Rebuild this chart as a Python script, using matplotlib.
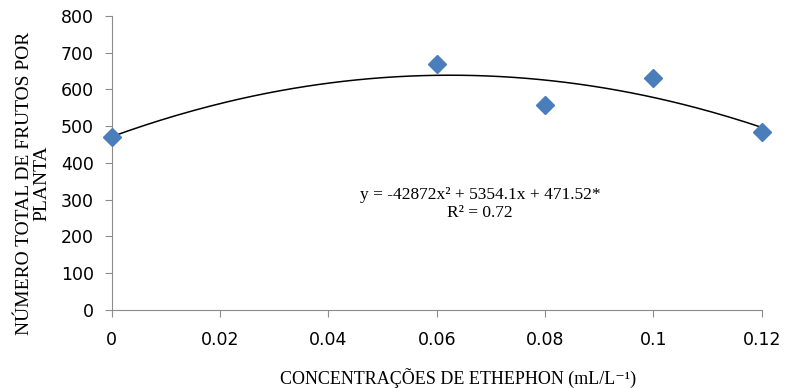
import numpy as np
import matplotlib.pyplot as plt

conc = [0, 0.06, 0.08, 0.1, 0.12]
frutos = [470, 670, 558, 630, 483]
coef = [-42872, 5354.1, 471.52]
x_ticks = [0, 0.02, 0.04, 0.06, 0.08, 0.1, 0.12]
x_ticklabels = ['0', '0.02', '0.04', '0.06', '0.08', '0.1', '0.12']
y_ticks = [0, 100, 200, 300, 400, 500, 600, 700, 800]

fig = plt.figure(figsize=(7.87, 3.88), dpi=100)
ax = fig.add_axes([0.142, 0.201, 0.826, 0.758])

# curva ajustada + pontos
xx = np.linspace(0, 0.12, 200)
ax.plot(xx, np.polyval(coef, xx), color='black', lw=1.1, zorder=2)
ax.plot(conc, frutos, 'D', color='#4a7ebb', markersize=9, zorder=3, clip_on=False)

ax.set_xlim(0, 0.12)
ax.set_ylim(0, 800)
ax.set_xticks(x_ticks)
ax.set_xticklabels(x_ticklabels)
ax.set_yticks(y_ticks)

for s in ['top', 'right']:
    ax.spines[s].set_visible(False)
for s in ['left', 'bottom']:
    ax.spines[s].set_color('#8c8c8c')
ax.tick_params(colors='#8c8c8c', length=5, labelcolor='black', labelsize=12.5)
ax.tick_params(axis='x', pad=10)
ax.tick_params(axis='y', pad=8)

serif = ['Liberation Serif', 'DejaVu Serif']
ax.set_ylabel('NÚMERO TOTAL DE FRUTOS POR\nPLANTA', family=serif, fontsize=14,
              linespacing=1.0, va='center')
ax.yaxis.set_label_coords(-0.121, 0.43)
ax.set_xlabel('CONCENTRAÇÕES DE ETHEPHON (mL/L⁻¹)', family=serif, fontsize=13,
              va='center')
ax.xaxis.set_label_coords(0.532, -0.231)

ax.text(0.068, 313, 'y = -42872x² + 5354.1x + 471.52*', family=serif, fontsize=12.5,
        ha='center', va='center')
ax.text(0.068, 264, 'R² = 0.72', family=serif, fontsize=12.5, ha='center', va='center')

fig.savefig('out.png', dpi=100)
